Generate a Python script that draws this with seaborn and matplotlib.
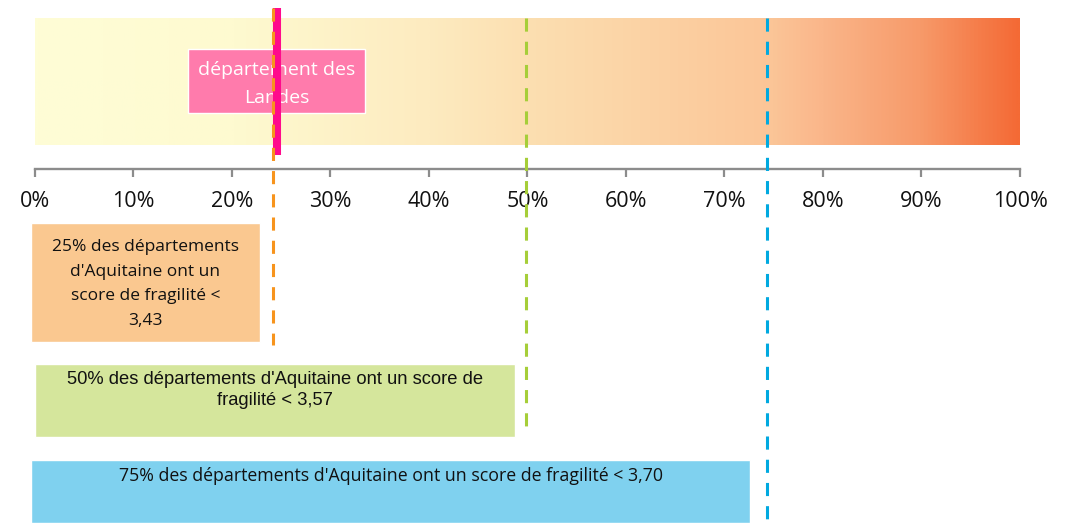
import matplotlib
matplotlib.use('Agg')
import matplotlib.pyplot as plt
import numpy as np
import seaborn as sns
from matplotlib.colors import LinearSegmentedColormap

# quartiles of the fragility score, placed on the 0-100% scale
quartile_pct = [24.2, 49.8, 74.3]
quartile_names = ['25%', '50%', '75%']
quartile_scores = ['3,43', '3,57', '3,70']
quartile_colors = ['#F7941D', '#A6CE39', '#00A9E0']
box_colors = ['#FAC890', '#D5E69C', '#7FD1EF']

# position of the Landes department
landes_pct = 24.6
landes_label = 'département des\nLandes'

tick_values = list(range(0, 101, 10))
tick_labels = [f'{v}%' for v in tick_values]

# gradient of the background band (light yellow -> orange)
grad_stops = [0.0, 0.2, 0.4, 0.5, 0.75, 0.8, 0.9, 1.0]
grad_colors = ['#FEFDD6', '#FEFAD0', '#FDEBC0', '#FCDFB1', '#FBC597',
               '#FAB68A', '#F79A6A', '#F46A35']

sns.set_theme(style='white')
plt.rcParams['font.family'] = ['Open Sans', 'DejaVu Sans']

W, H = 1067, 523
px_per_pct = 9.85
x0 = 35

fig = plt.figure(figsize=(W / 100, H / 100), dpi=100)
ax = fig.add_axes([0, 0, 1, 1])

# background gradient band
cmap = LinearSegmentedColormap.from_list('band', list(zip(grad_stops, grad_colors)))
ax.imshow(np.linspace(0, 1, 512)[None, :], cmap=cmap, aspect='auto',
          extent=[0, 100, 145, 18], zorder=0)

# Landes box + line
ax.barh(y=81, width=18, left=15.5, height=64, color='#FF7BAC', zorder=2)
ax.text(24.5, 84, landes_label, ha='center', va='center', color='white',
        fontsize=14, linespacing=1.65, zorder=3)
ax.vlines(landes_pct, 8, 155, color='#FF0A8C', linewidth=5.8, zorder=4)

# quartile dashed lines
line_ends = [345, 430, 523]
line_starts = [8, 18, 18]
for pct, c, y_start, y_end in zip(quartile_pct, quartile_colors, line_starts, line_ends):
    ax.vlines(pct, y_start, y_end, color=c, linewidth=2.2,
              linestyles=(0, (4.3, 3.3)), zorder=5)

# quartile boxes
n1, n2, n3 = quartile_names
s1, s2, s3 = quartile_scores
ax.barh(y=282.5, width=23.2, left=-0.4, height=119, color=box_colors[0], zorder=2)
ax.text(11.2, 284, f"{n1} des départements\nd'Aquitaine ont un\nscore de fragilité <\n{s1}",
        ha='center', va='center', fontsize=12.5, linespacing=1.72,
        color='#111111', zorder=3)

ax.barh(y=400.5, width=48.7, left=0.0, height=73, color=box_colors[1], zorder=2)
ax.text(24.35, 390, f"{n2} des départements d'Aquitaine ont un score de\nfragilité < {s2}",
        ha='center', va='center', fontsize=13.2, linespacing=1.38,
        color='#111111', family=['Liberation Sans', 'DejaVu Sans'], zorder=3)

ax.barh(y=491.5, width=73.0, left=-0.4, height=63, color=box_colors[2], zorder=2)
ax.text(36.1, 476, f"{n3} des départements d'Aquitaine ont un score de fragilité < {s3}",
        ha='center', va='center', fontsize=12.8, color='#111111', zorder=3)

# axis
ax.set_xlim(-x0 / px_per_pct, (W - x0) / px_per_pct)
ax.set_ylim(H, 0)
for side in ['top', 'left', 'right']:
    ax.spines[side].set_visible(False)
ax.spines['bottom'].set_position(('data', 169))
ax.spines['bottom'].set_bounds(0, 100)
ax.spines['bottom'].set_color('#8c8c8c')
ax.spines['bottom'].set_linewidth(1.7)
ax.set_xticks(tick_values, tick_labels)
ax.set_yticks([])
ax.tick_params(axis='x', direction='out', length=6, width=1.6, color='#8c8c8c',
               pad=10, labelsize=15.5, labelcolor='#111111', bottom=True)
ax.grid(False)

fig.savefig('out.png', dpi=100)
